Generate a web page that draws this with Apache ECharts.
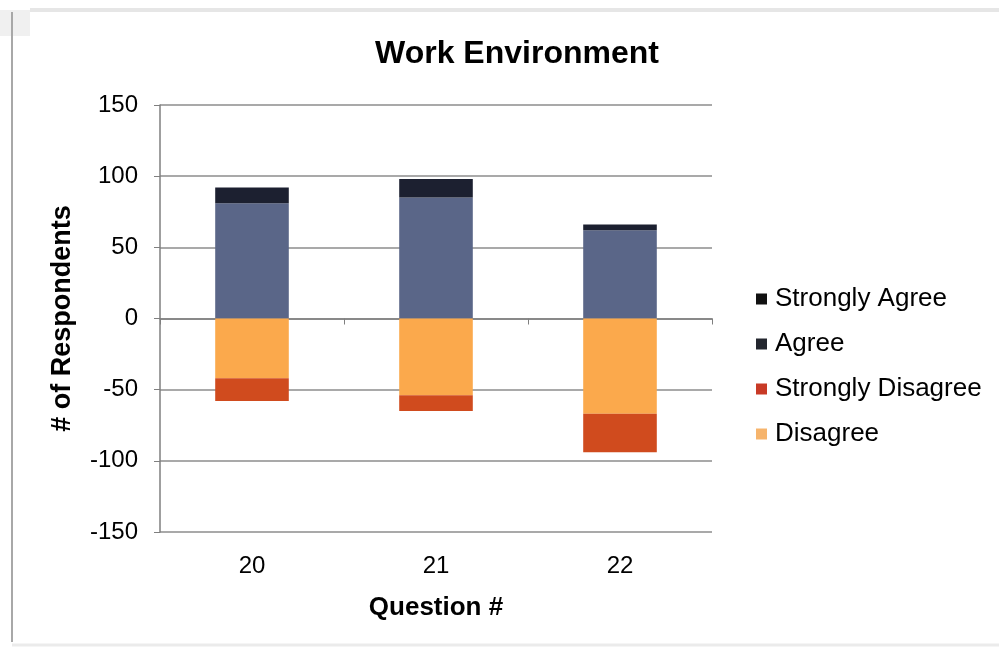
<!DOCTYPE html>
<html>
<head>
<meta charset="utf-8">
<title>Work Environment</title>
<script src="https://cdn.jsdelivr.net/npm/echarts@6/dist/echarts.min.js"></script>
<style>
  html, body { margin: 0; padding: 0; background: #ffffff; }
  #chart { width: 999px; height: 648px; }
</style>
</head>
<body>
<div id="chart"></div>
<script>
// Survey responses per question
const questions = ['20', '21', '22'];
const agree = [81, 85, 62];
const stronglyAgree = [11, 13, 4];
const disagree = [-42, -54, -67];
const stronglyDisagree = [-16, -11, -27];
const yTicks = { min: -150, max: 150, step: 50 };

const FONT = '"Liberation Sans", Arial, sans-serif';
const colors = {
  stronglyAgree: '#1c2030',
  agree: '#5a6688',
  stronglyDisagree: '#d04b1e',
  disagree: '#fba94c'
};

const chart = echarts.init(document.getElementById('chart'), null, { renderer: 'canvas' });

const barBase = { type: 'bar', stack: 'total', barWidth: '40%' };

chart.setOption({
  backgroundColor: '#ffffff',
  animation: false,
  textStyle: { fontFamily: FONT },
  title: {
    text: 'Work Environment',
    left: 512,
    textAlign: 'center',
    top: 33,
    textStyle: { fontFamily: FONT, fontWeight: 'bold', fontSize: 32, color: '#000' }
  },
  legend: {
    orient: 'vertical',
    left: 751,
    top: 281,
    itemGap: 19,
    itemWidth: 11,
    itemHeight: 11,
    icon: 'rect',
    textStyle: { fontFamily: FONT, fontSize: 26, color: '#000', padding: [0, 0, 0, 3] },
    data: [
      { name: 'Strongly Agree', itemStyle: { color: '#111111' } },
      { name: 'Agree', itemStyle: { color: '#23262e' } },
      { name: 'Strongly Disagree', itemStyle: { color: '#c83a26' } },
      { name: 'Disagree', itemStyle: { color: '#f6b46c' } }
    ]
  },
  grid: { left: 160, right: 287, top: 105, bottom: 116, containLabel: false },
  xAxis: [
    {
      type: 'category',
      data: questions,
      axisLine: { onZero: true, lineStyle: { color: '#7f7f7f', width: 1.5 } },
      axisTick: { show: true, inside: false, length: 6, alignWithLabel: false, lineStyle: { color: '#7f7f7f' } },
      axisLabel: { show: false },
      splitLine: { show: false }
    },
    {
      type: 'category',
      data: questions,
      position: 'bottom',
      name: 'Question #',
      nameLocation: 'middle',
      nameGap: 63,
      nameTextStyle: { fontFamily: FONT, fontWeight: 'bold', fontSize: 26, color: '#000' },
      axisLine: { show: false, onZero: false },
      axisTick: { show: false },
      axisLabel: { fontFamily: FONT, fontSize: 24, color: '#000', margin: 22 }
    }
  ],
  yAxis: {
    type: 'value',
    min: yTicks.min,
    max: yTicks.max,
    interval: yTicks.step,
    name: '# of Respondents',
    nameLocation: 'middle',
    nameGap: 84,
    nameTextStyle: { fontFamily: FONT, fontWeight: 'bold', fontSize: 27, color: '#000' },
    axisLine: { show: true, lineStyle: { color: '#7f7f7f', width: 1.5 } },
    axisTick: { show: true, length: 6, lineStyle: { color: '#7f7f7f' } },
    axisLabel: { fontFamily: FONT, fontSize: 24, color: '#000', margin: 22 },
    splitLine: { show: true, lineStyle: { color: '#8c8c8c', width: 1.5 } }
  },
  series: [
    Object.assign({ name: 'Agree', data: agree, itemStyle: { color: colors.agree } }, barBase),
    Object.assign({ name: 'Strongly Agree', data: stronglyAgree, itemStyle: { color: colors.stronglyAgree } }, barBase),
    Object.assign({ name: 'Disagree', data: disagree, itemStyle: { color: colors.disagree } }, barBase),
    Object.assign({ name: 'Strongly Disagree', data: stronglyDisagree, itemStyle: { color: colors.stronglyDisagree } }, barBase)
  ],
  graphic: [
    // outer frame of the chart area
    { type: 'rect', shape: { x: 0, y: 10, width: 30, height: 26 }, style: { fill: '#f0f0f0' }, silent: true },
    { type: 'line', shape: { x1: 12, y1: 12, x2: 12, y2: 642 }, style: { stroke: '#a8a8a8', lineWidth: 2 }, silent: true },
    { type: 'line', shape: { x1: 30, y1: 10, x2: 999, y2: 10 }, style: { stroke: '#e6e6e6', lineWidth: 4 }, silent: true },
    { type: 'line', shape: { x1: 12, y1: 645, x2: 999, y2: 645 }, style: { stroke: '#ebebeb', lineWidth: 3 }, silent: true }
  ]
});
</script>
</body>
</html>
